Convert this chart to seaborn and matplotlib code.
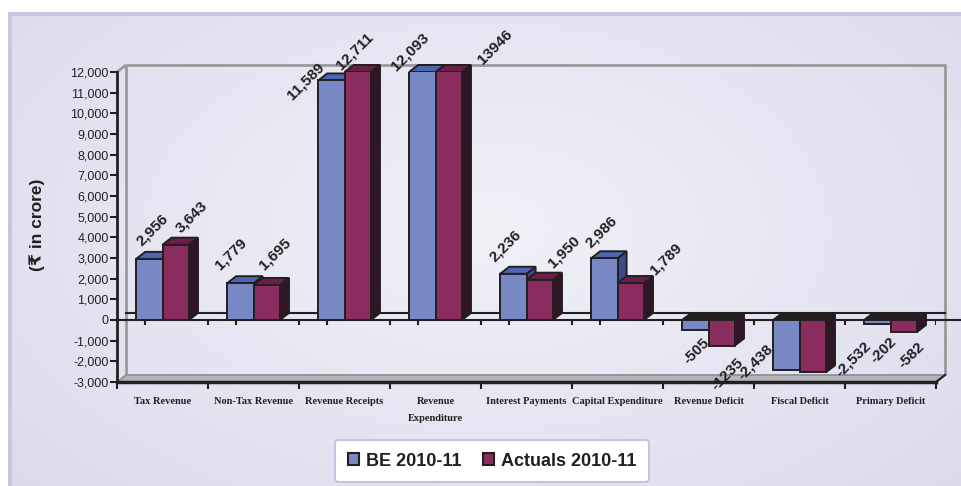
import numpy as np
import pandas as pd
import matplotlib
matplotlib.use("Agg")
import matplotlib.pyplot as plt
import seaborn as sns
from matplotlib.patches import Polygon, Rectangle, Patch
from matplotlib.font_manager import FontProperties
from matplotlib.ticker import FuncFormatter, FixedLocator
from matplotlib.colors import to_rgb

# ---------------- data ----------------
categories = ["Tax Revenue", "Non-Tax Revenue", "Revenue Receipts", "Revenue\nExpenditure",
              "Interest Payments", "Capital Expenditure", "Revenue Deficit",
              "Fiscal Deficit", "Primary Deficit"]
series_names = ["BE 2010-11", "Actuals 2010-11"]
be_values = [2956, 1779, 11589, 12093, 2236, 2986, -505, -2438, -202]
actual_values = [3643, 1695, 12711, 13946, 1950, 1789, -1235, -2532, -582]
be_labels = ["2,956", "1,779", "11,589", "12,093", "2,236", "2,986", "-505", "-2,438", "-202"]
actual_labels = ["3,643", "1,695", "12,711", "13946", "1,950", "1,789", "-1235", "-2,532", "-582"]
y_ticks = list(range(-3000, 12001, 1000))
y_min, y_max = -3000, 12000

# label nudges in pixels (dx, dy up) relative to bar end
be_nudge = [(3, 11), (-9, 11), (-26, -22), (-12, -1), (-8, 9), (-3, 8), (1, -5), (-31, 29), (6, -10)]
act_nudge = [(16, 9), (8, 13), (-3, 0), (46, 5), (24, 9), (35, 6), (6, -10), (40, 34), (8, -8)]

# ---------------- styles ----------------
INK = "#231f20"
front_cols = ["#7788c4", "#8b2c5e"]
top_cols = ["#4d66b3", "#6a1f48"]
side_cols = ["#3a4d8a", "#2f1526"]
WALL = "#9a9a9e"
DX, DY = 0.1, 340

W, H = 961, 486
fig = plt.figure(figsize=(W / 100, H / 100), dpi=100)
fig.patch.set_facecolor("white")

# background panel with border and soft gradient
fig.patches.append(Rectangle((8 / W, 0), 1 - 8 / W, (H - 12) / H, transform=fig.transFigure,
                             facecolor="#c8c6e3", edgecolor="none", zorder=-20))
bg = fig.add_axes([12 / W, 0, 1 - 12 / W, (H - 16) / H], zorder=-10)
bg.axis("off")
gy, gx = np.mgrid[0:1:200j, 0:1:400j]
r = np.sqrt(((gx - 0.5) / 0.75) ** 2 + ((gy - 0.45) / 0.9) ** 2)
r = np.clip(r, 0, 1)
c_in, c_out = np.array(to_rgb("#f1f1f8")), np.array(to_rgb("#dad9eb"))
img = c_in[None, None, :] * (1 - r[..., None]) + c_out[None, None, :] * r[..., None]
bg.imshow(img, aspect="auto", extent=[0, 1, 0, 1], origin="upper")
bg.set_xlim(0, 1); bg.set_ylim(0, 1)

ax = fig.add_axes([117 / W, (H - 382) / H, (936 - 117) / W, (382 - 72) / H])
ax.set_facecolor("none")

df = pd.DataFrame({
    "Category": categories * 2,
    "Series": [series_names[0]] * len(categories) + [series_names[1]] * len(categories),
    "Value": be_values + actual_values,
})
sns.barplot(data=df, x="Category", y="Value", hue="Series", order=categories,
            hue_order=series_names, palette=front_cols, saturation=1, width=0.58, gap=0,
            edgecolor=INK, linewidth=1.4, legend=False, ax=ax, errorbar=None)

ax.set_xlim(-0.5, 8.5)
ax.set_ylim(y_min, y_max)

# 3D faces for every bar
values = [be_values, actual_values]
labels = [be_labels, actual_labels]
nudges = [be_nudge, act_nudge]
for s, cont in enumerate(ax.containers[:2]):
    for i, bar in enumerate(cont.patches):
        base = 3 + i * 0.1 + s * 0.05
        bar.set_zorder(base + 0.02)
        x0 = bar.get_x(); x1 = x0 + bar.get_width()
        h = values[s][i]
        hc = min(h, y_max)
        if h >= 0:
            top = Polygon([(x0, hc), (x1, hc), (x1 + DX, hc + DY), (x0 + DX, hc + DY)],
                          facecolor=top_cols[s], edgecolor=INK, lw=1.4, clip_on=False, zorder=base + 0.01)
            side = Polygon([(x1, 0), (x1 + DX, DY), (x1 + DX, hc + DY), (x1, hc)],
                           facecolor=side_cols[s], edgecolor=INK, lw=1.4, clip_on=False, zorder=base + 0.01)
        else:
            top = Polygon([(x0, 0), (x1, 0), (x1 + DX, DY), (x0 + DX, DY)],
                          facecolor=INK, edgecolor=INK, lw=1.4, clip_on=False, zorder=base + 0.01)
            side = Polygon([(x1, hc), (x1 + DX, hc + DY), (x1 + DX, DY), (x1, 0)],
                           facecolor=side_cols[s], edgecolor=INK, lw=1.4, clip_on=False, zorder=base + 0.01)
        ax.add_patch(side); ax.add_patch(top)
        cx = x0 + bar.get_width() / 2
        ndx, ndy = nudges[s][i]
        ax.annotate(labels[s][i], xy=(cx, hc), xytext=(ndx, ndy), textcoords="offset pixels",
                    ha="center", va="bottom" if h >= 0 else "top", rotation=45,
                    fontsize=11, fontweight="bold", color=INK,
                    family=["Liberation Sans", "DejaVu Sans"],
                    annotation_clip=False, zorder=10)

# 3D wall and floor
L, R = -0.5, 8.5
wall_kw = dict(color=WALL, lw=2, clip_on=False, zorder=1, solid_capstyle="butt")
ax.plot([L + DX, R + DX, R + DX], [y_max + DY, y_max + DY, y_min + DY], **wall_kw)
ax.plot([L + DX, L + DX], [y_min + DY, y_max + DY], **wall_kw)
ax.plot([L, L + DX], [y_max, y_max + DY], **wall_kw)
ax.add_patch(Polygon([(L, y_min), (R, y_min), (R + DX, y_min + DY), (L + DX, y_min + DY)],
                     facecolor="#b4b4bc", edgecolor="#8c8c90", lw=1.2, clip_on=False, zorder=1.2))
ax.plot([R, R + DX], [y_min, y_min + DY], color=INK, lw=1.5, clip_on=False, zorder=1.3)

# zero plane lines
ax.plot([L + DX, R + DX], [DY, DY], color=INK, lw=1.5, clip_on=False, zorder=1.5)
ax.plot([L, L + (W - 117) / 91], [0, 0], color=INK, lw=1.5, clip_on=False, zorder=1.5)
idx = np.arange(len(categories))
ax.vlines(np.concatenate([idx + 0.5, idx - 0.19]), -242, 0, color=INK, lw=1.5, zorder=1.5)

# axes styling
for sp in ["top", "right"]:
    ax.spines[sp].set_visible(False)
ax.spines["left"].set_color(INK); ax.spines["left"].set_linewidth(2)
ax.spines["bottom"].set_color(INK); ax.spines["bottom"].set_linewidth(2.5)
ax.spines["left"].set_zorder(6); ax.spines["bottom"].set_zorder(6)
ax.yaxis.set_major_locator(FixedLocator(y_ticks))
ax.yaxis.set_major_formatter(FuncFormatter(lambda v, p: f"{int(v):,}"))
ax.tick_params(axis="y", direction="out", length=5, width=1.5, color=INK, labelsize=9,
               labelcolor=INK, pad=1)
for t in ax.get_yticklabels():
    t.set_family(["Liberation Sans", "DejaVu Sans"])
ax.set_xticks(idx)
ax.set_xticklabels(categories, fontfamily="Liberation Serif", fontweight="bold", fontsize=7.5,
                   color=INK, linespacing=2.1, va="top")
ax.tick_params(axis="x", which="major", length=0, pad=11)
ax.set_xticks(np.arange(-0.5, 9, 1), minor=True)
ax.tick_params(axis="x", which="minor", direction="out", length=5, width=1.5, color=INK)
ax.set_xlabel(""); ax.set_ylabel("")

fig.text(37 / W, 1 - 225 / H, "(\u20b9 in crore)", rotation=90, ha="center", va="center",
         fontsize=12.5, fontweight="bold", color=INK, family=["Liberation Sans", "DejaVu Sans"])

handles = [Patch(facecolor=front_cols[k], edgecolor=INK, lw=1.5, label=series_names[k]) for k in range(2)]
leg = fig.legend(handles=handles, loc="center", bbox_to_anchor=(492 / W, (H - 461) / H), ncol=2,
                 frameon=True, fancybox=True, framealpha=1, facecolor="white", edgecolor="#c5c3e3",
                 prop=FontProperties(family="Liberation Sans", weight="bold", size=13),
                 handlelength=0.6, handleheight=0.6, handletextpad=0.4, columnspacing=1.2,
                 borderpad=0.7, labelcolor=INK)
leg.get_frame().set_linewidth(1.5)

fig.savefig("out.png", dpi=100, facecolor=fig.get_facecolor())
